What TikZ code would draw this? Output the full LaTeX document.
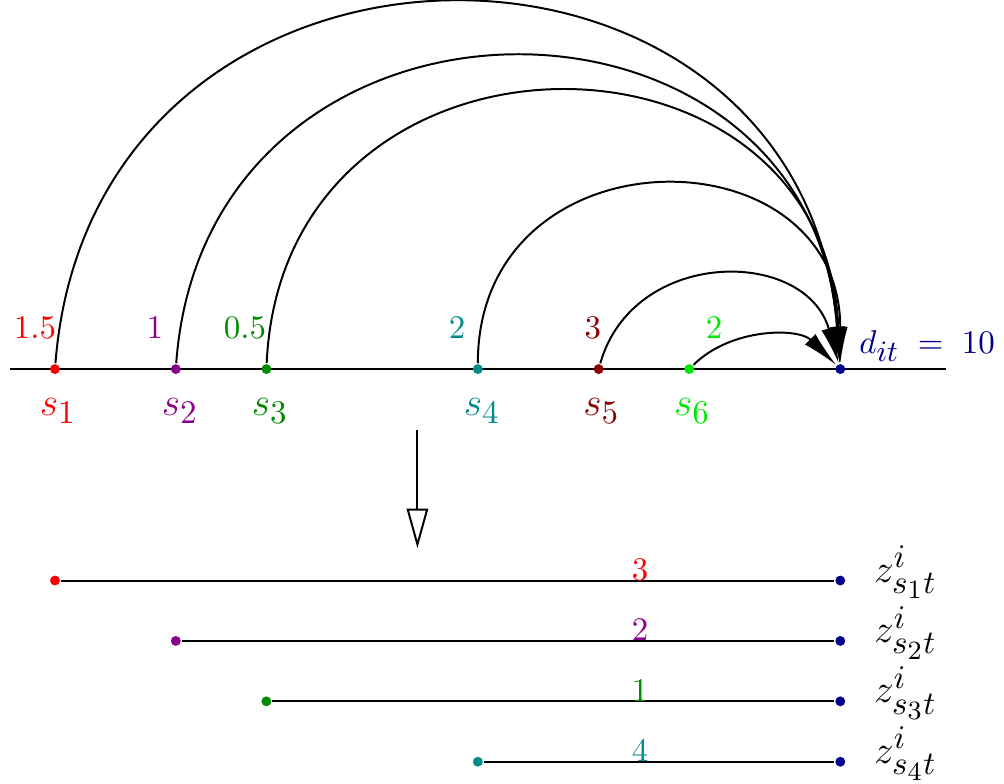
\documentclass[tikz,border=0pt]{standalone}
\usepackage{tikz}
\usetikzlibrary{arrows.meta, positioning}
\DeclareMathSizes{10}{10}{9}{7}
\DeclareMathSizes{12}{12}{10}{8}
\definecolor{srcred}{RGB}{255, 0, 0}
\definecolor{srcviolet}{RGB}{139, 0, 139}
\definecolor{srcgreen}{RGB}{0, 139, 0}
\definecolor{srcteal}{RGB}{0, 139, 139}
\definecolor{srcmaroon}{RGB}{139, 0, 0}
\definecolor{srclime}{RGB}{0, 230, 0}
\definecolor{destnavy}{RGB}{0, 0, 139}

\begin{document}
\begin{tikzpicture}[x=0.322cm, y=0.322cm, semithick,
    vtx/.style={circle, fill=#1, inner sep=0pt, minimum size=3pt},
    lbl/.style={text=#1, inner sep=0pt, anchor=base},
    sname/.style={lbl=#1, font=\large},
    hop/.style={-{Latex[length=11pt, width=4.5pt]}}]
    \useasboundingbox (-1.82,-13.71) rectangle (31.42,12.22);

    \coordinate (left) at (-1.5,0);
    \coordinate (right) at (29.5,0);
    \draw (left) -- (right);

    \node[vtx=srcred] (s1) at (0,0) {};
    \node[vtx=srcviolet] (s2) at (4,0) {};
    \node[vtx=srcgreen] (s3) at (7,0) {};
    \node[vtx=srcteal] (s4) at (14,0) {};
    \node[vtx=srcmaroon] (s5) at (18,0) {};
    \node[vtx=srclime] (s6) at (21,0) {};
    \node[vtx=destnavy] (d) at (26,0) {};

    \node[lbl=srcred] (w1) at (-0.66,1) {$1.5$};
    \node[lbl=srcviolet] (w2) at (3.31,1) {$1$};
    \node[lbl=srcgreen] (w3) at (6.29,1) {$0.5$};
    \node[lbl=srcteal] (w4) at (13.31,1) {$2$};
    \node[lbl=srcmaroon] (w5) at (17.81,1) {$3$};
    \node[lbl=srclime] (w6) at (21.82,1) {$2$};

    \node[sname=srcred] (n1) at (0.1,-1.55) {$s_1$};
    \node[sname=srcviolet] (n2) at (4.14,-1.55) {$s_2$};
    \node[sname=srcgreen] (n3) at (7.12,-1.55) {$s_3$};
    \node[sname=srcteal] (n4) at (14.14,-1.55) {$s_4$};
    \node[sname=srcmaroon] (n5) at (18.1,-1.55) {$s_5$};
    \node[sname=srclime] (n6) at (21.1,-1.55) {$s_6$};
    \node[lbl=destnavy, anchor=base west] (dl) at (26.6,0.53) {$d_{it} \;=\; 10$};

    \draw[hop] (s1) .. controls +(85.5:16.07) and +(94.5:16.07) .. (d);
    \draw[hop] (s2) .. controls +(85.8:13.67) and +(94.2:13.67) .. (d);
    \draw[hop] (s3) .. controls +(87.4:12.11) and +(92.6:12.11) .. (d);
    \draw[hop] (s4) .. controls +(90:8) and +(90:8) .. (d);
    \draw[hop] (s5) .. controls +(74.1:4.19) and +(105.9:4.19) .. (d);
    \draw[hop] (s6) .. controls +(44.8:1.95) and +(135.2:1.95) .. (d);

    \coordinate (top) at (12,-2.02);
    \coordinate (bot) at (12,-5.93);
    \draw[-{Triangle[open, length=12pt, width=6.5pt]}] (top) -- (bot);

    \node[vtx=srcred] (a1) at (0,-7) {};
    \node[vtx=destnavy] (b1) at (26,-7) {};
    \draw (a1) -- (b1);
    \node[lbl=srcred] (c1) at (19.37,-7) {$3$};
    \node[lbl=black, font=\large, anchor=base west] (z1) at (27.09,-7.05) {$z^{i}_{s_1 t}$};

    \node[vtx=srcviolet] (a2) at (4,-9) {};
    \node[vtx=destnavy] (b2) at (26,-9) {};
    \draw (a2) -- (b2);
    \node[lbl=srcviolet] (c2) at (19.37,-9) {$2$};
    \node[lbl=black, font=\large, anchor=base west] (z2) at (27.09,-9.05) {$z^{i}_{s_2 t}$};

    \node[vtx=srcgreen] (a3) at (7,-11) {};
    \node[vtx=destnavy] (b3) at (26,-11) {};
    \draw (a3) -- (b3);
    \node[lbl=srcgreen] (c3) at (19.37,-11) {$1$};
    \node[lbl=black, font=\large, anchor=base west] (z3) at (27.09,-11.05) {$z^{i}_{s_3 t}$};

    \node[vtx=srcteal] (a4) at (14,-13) {};
    \node[vtx=destnavy] (b4) at (26,-13) {};
    \draw (a4) -- (b4);
    \node[lbl=srcteal] (c4) at (19.37,-13) {$4$};
    \node[lbl=black, font=\large, anchor=base west] (z4) at (27.09,-13.05) {$z^{i}_{s_4 t}$};
\end{tikzpicture}
\end{document}
